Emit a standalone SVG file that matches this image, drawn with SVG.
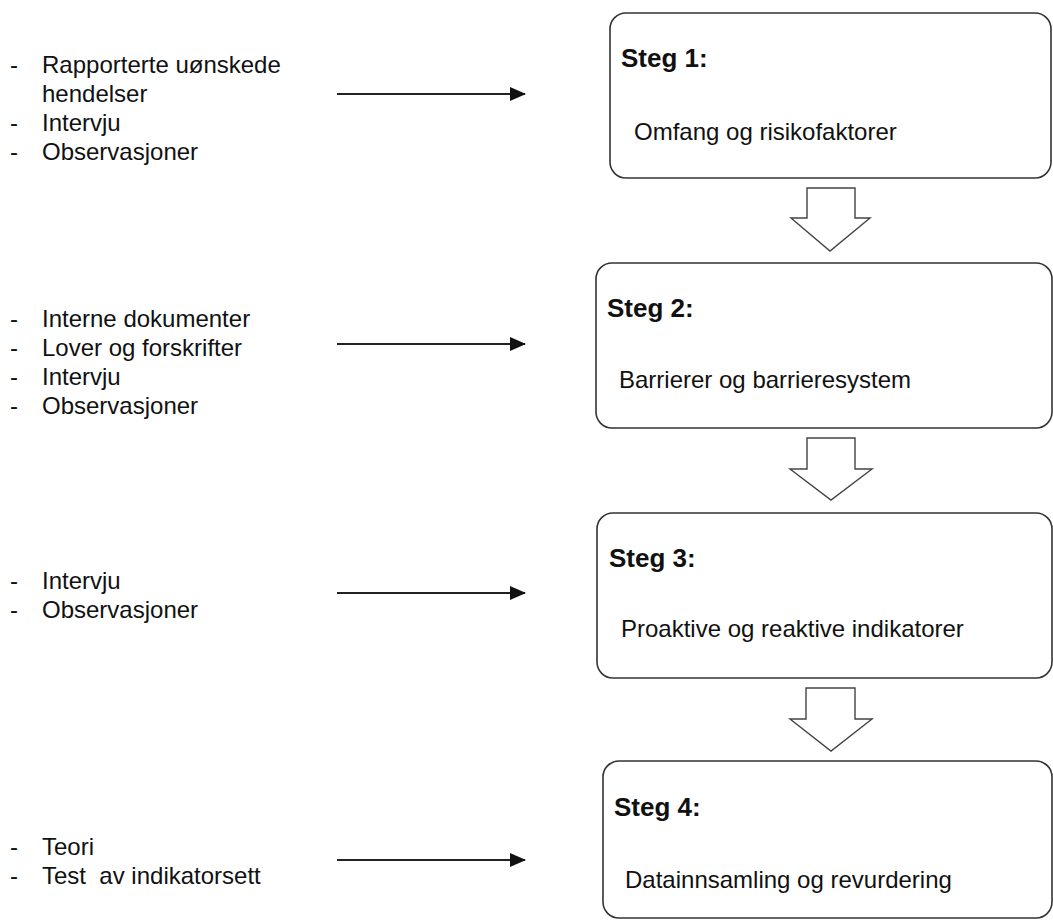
<svg xmlns="http://www.w3.org/2000/svg" width="1053" height="922" viewBox="0 0 1053 922">
<style>
.t{font-family:"Liberation Sans",Arial,sans-serif;font-size:24px;fill:#111}
.b{font-family:"Liberation Sans",Arial,sans-serif;font-size:26px;font-weight:bold;fill:#111}
.box{fill:#fff;stroke:#333;stroke-width:1.6}
.down{fill:#fff;stroke:#444;stroke-width:1.4;stroke-linejoin:miter}
.con{stroke:#222;stroke-width:2;fill:none}
</style>
<defs>
<marker id="ah" markerWidth="8" markerHeight="8" refX="7.5" refY="4" orient="auto" markerUnits="strokeWidth">
<path d="M0,0.5 L8,4 L0,7.5 Z" fill="#111"/>
</marker>
</defs>
<rect width="1053" height="922" fill="#fff"/>
<g id="inputs1">
<text class="t" x="10" y="73">-</text><text class="t" x="42" y="73">Rapporterte uønskede</text>
<text class="t" x="42" y="102">hendelser</text>
<text class="t" x="10" y="131">-</text><text class="t" x="42" y="131">Intervju</text>
<text class="t" x="10" y="160">-</text><text class="t" x="42" y="160">Observasjoner</text>
</g>
<g id="inputs2">
<text class="t" x="10" y="327">-</text><text class="t" x="42" y="327">Interne dokumenter</text>
<text class="t" x="10" y="356">-</text><text class="t" x="42" y="356">Lover og forskrifter</text>
<text class="t" x="10" y="385">-</text><text class="t" x="42" y="385">Intervju</text>
<text class="t" x="10" y="414">-</text><text class="t" x="42" y="414">Observasjoner</text>
</g>
<g id="inputs3">
<text class="t" x="10" y="589">-</text><text class="t" x="42" y="589">Intervju</text>
<text class="t" x="10" y="618">-</text><text class="t" x="42" y="618">Observasjoner</text>
</g>
<g id="inputs4">
<text class="t" x="10" y="855">-</text><text class="t" x="42" y="855">Teori</text>
<text class="t" x="10" y="884">-</text><text class="t" x="42" y="884" xml:space="preserve">Test  av indikatorsett</text>
</g>
<g id="step1">
<rect class="box" x="610" y="13" width="441" height="165" rx="16"/>
<text class="b" x="621" y="67">Steg 1:</text>
<text class="t" x="634" y="140">Omfang og risikofaktorer</text>
</g>
<g id="step2">
<rect class="box" x="596" y="263" width="456" height="165" rx="16"/>
<text class="b" x="607" y="317">Steg 2:</text>
<text class="t" x="619" y="388">Barrierer og barrieresystem</text>
</g>
<g id="step3">
<rect class="box" x="597" y="513" width="455" height="165" rx="16"/>
<text class="b" x="609" y="567">Steg 3:</text>
<text class="t" x="621" y="637">Proaktive og reaktive indikatorer</text>
</g>
<g id="step4">
<rect class="box" x="603" y="761" width="449" height="157" rx="16"/>
<text class="b" x="614" y="816">Steg 4:</text>
<text class="t" x="625" y="888">Datainnsamling og revurdering</text>
</g>
<g id="connectors">
<line class="con" x1="337" y1="94" x2="525" y2="94" marker-end="url(#ah)"/>
<line class="con" x1="337" y1="344" x2="525" y2="344" marker-end="url(#ah)"/>
<line class="con" x1="337" y1="593" x2="525" y2="593" marker-end="url(#ah)"/>
<line class="con" x1="337" y1="860" x2="525" y2="860" marker-end="url(#ah)"/>
<polygon class="down" points="807,188 855,188 855,218 870,218 830,251 791,218 807,218"/>
<polygon class="down" points="807,438 855,438 855,469 872,469 831,500 790,469 807,469"/>
<polygon class="down" points="806,688 855,688 855,719 872,719 831,751 790,719 806,719"/>
</g>
</svg>
